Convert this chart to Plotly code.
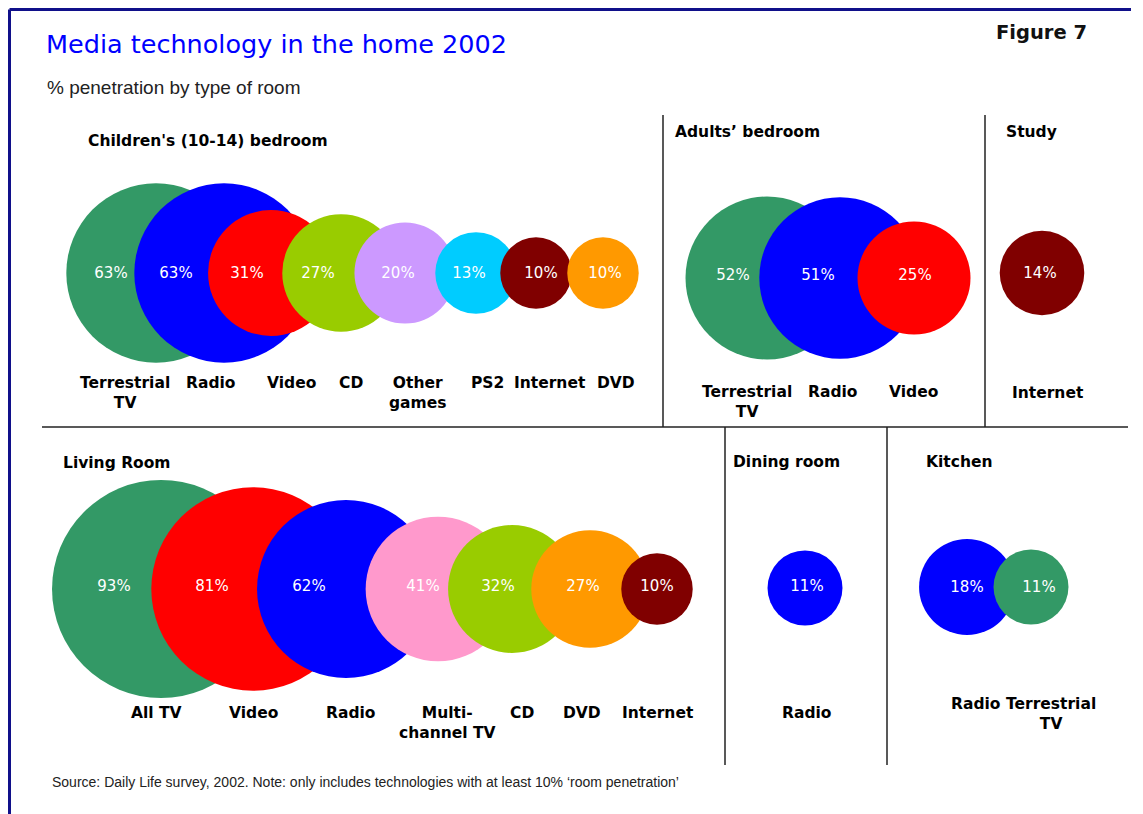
import plotly.graph_objects as go
import math

# ---------------- DATA ----------------
child_items = ["Terrestrial<br>TV", "Radio", "Video", "CD", "Other<br>games", "PS2", "Internet", "DVD"]
child_values = [63, 63, 31, 27, 20, 13, 10, 10]

adult_items = ["Terrestrial<br>TV", "Radio", "Video"]
adult_values = [52, 51, 25]

study_items = ["Internet"]
study_values = [14]

living_items = ["All TV", "Video", "Radio", "Multi-<br>channel TV", "CD", "DVD", "Internet"]
living_values = [93, 81, 62, 41, 32, 27, 10]

dining_items = ["Radio"]
dining_values = [11]

kitchen_items = ["Radio", "Terrestrial<br>TV"]
kitchen_values = [18, 11]

room_titles = ["Children's (10-14) bedroom", "Adults\u2019 bedroom", "Study",
               "Living Room", "Dining room", "Kitchen"]

# ---------------- STYLE / LAYOUT ----------------
C = {
    "Terrestrial<br>TV": "#339966", "All TV": "#339966", "Radio": "#0000FF",
    "Video": "#FF0000", "CD": "#99CC00", "Other<br>games": "#CC99FF",
    "PS2": "#00CCFF", "Internet": "#800000", "DVD": "#FF9900",
    "Multi-<br>channel TV": "#FF99CC",
}
K = 11.3  # px radius per sqrt(percentage point)

rooms = [
    dict(items=child_items, values=child_values, cy=273, ly=274, ny=372,
         cx=[156, 224, 271, 341, 405, 476, 536, 603],
         lx=[111, 176, 247, 318, 398, 469, 541, 605],
         nx=[125, 210, 291, 351, 417, 487, 550, 616]),
    dict(items=adult_items, values=adult_values, cy=278, ly=276, ny=381,
         cx=[767, 840, 914], lx=[733, 818, 915], nx=[747, 832, 913]),
    dict(items=study_items, values=study_values, cy=273, ly=274, ny=382,
         cx=[1042], lx=[1040], nx=[1048]),
    dict(items=living_items, values=living_values, cy=589, ly=587, ny=702,
         cx=[161, 253, 346, 438, 512, 590, 657],
         lx=[114, 212, 309, 423, 498, 583, 657],
         nx=[156, 253, 350, 447, 522, 582, 658]),
    dict(items=dining_items, values=dining_values, cy=588, ly=587, ny=702,
         cx=[805], lx=[807], nx=[806]),
    dict(items=kitchen_items, values=kitchen_values, cy=587, ly=588, ny=693,
         cx=[967, 1031], lx=[967, 1039], nx=[975, 1051]),
]
title_pos = [(86, 141), (673, 132), (1004, 132), (61, 463), (731, 462), (924, 462)]

FONT = "DejaVu Sans"
fig = go.Figure()
annotations = []

for room in rooms:
    vals = room["values"]
    fig.add_trace(go.Scatter(
        x=room["cx"], y=[room["cy"]] * len(vals), mode="markers",
        marker=dict(size=[2 * K * math.sqrt(v) for v in vals],
                    sizemode="diameter",
                    color=[C[i] for i in room["items"]],
                    line=dict(width=0), opacity=1),
        hoverinfo="skip", showlegend=False, cliponaxis=False))
    fig.add_trace(go.Scatter(
        x=room["lx"], y=[room["ly"]] * len(vals), mode="text",
        text=[f"{v}%" for v in vals],
        textfont=dict(family=FONT, size=15, color="white"),
        hoverinfo="skip", showlegend=False))
    for name, x in zip(room["items"], room["nx"]):
        annotations.append(dict(x=x, y=room["ny"], xref="x", yref="y", text=f"<b>{name}</b>",
                                showarrow=False, xanchor="center", yanchor="top",
                                font=dict(family=FONT, size=15.5, color="black")))

for t, (x, y) in zip(room_titles, title_pos):
    annotations.append(dict(x=x, y=y, xref="x", yref="y", text=f"<b>{t}</b>",
                            showarrow=False, xanchor="left", yanchor="middle",
                            font=dict(family=FONT, size=15.5, color="black")))

annotations += [
    dict(x=44, y=44, xref="x", yref="y", text="Media technology in the home 2002",
         showarrow=False, xanchor="left", yanchor="middle",
         font=dict(family=FONT, size=25.5, color="#0000FF")),
    dict(x=994, y=32, xref="x", yref="y", text="<b>Figure 7</b>",
         showarrow=False, xanchor="left", yanchor="middle",
         font=dict(family=FONT, size=19.5, color="#111111")),
    dict(x=45, y=87, xref="x", yref="y", text="% penetration by type of room",
         showarrow=False, xanchor="left", yanchor="middle",
         font=dict(family="Liberation Sans", size=19, color="#222222")),
    dict(x=50, y=782, xref="x", yref="y",
         text="Source: Daily Life survey, 2002. Note: only includes technologies with at least 10% \u2018room penetration\u2019",
         showarrow=False, xanchor="left", yanchor="middle",
         font=dict(family="Liberation Sans", size=14, color="#222222")),
]

shapes = [
    dict(type="line", x0=9.5, y0=9.5, x1=1131, y1=9.5, line=dict(color="#10108a", width=3)),
    dict(type="line", x0=9.5, y0=9.5, x1=9.5, y1=814, line=dict(color="#10108a", width=3)),
    dict(type="line", x0=42, y0=427, x1=1128, y1=427, line=dict(color="#222222", width=1.5)),
    dict(type="line", x0=663, y0=115, x1=663, y1=427, line=dict(color="#222222", width=1.5)),
    dict(type="line", x0=985, y0=115, x1=985, y1=427, line=dict(color="#222222", width=1.5)),
    dict(type="line", x0=725, y0=427, x1=725, y1=765, line=dict(color="#222222", width=1.5)),
    dict(type="line", x0=887, y0=427, x1=887, y1=765, line=dict(color="#222222", width=1.5)),
]
for s in shapes:
    s.update(xref="x", yref="y", layer="below")

# The page body has an 8px margin: the figure starts at page pixel (8, 8),
# so the axes are set up so that one axis unit equals one page pixel.
fig.update_layout(
    width=1135, height=806, autosize=False,
    margin=dict(l=0, r=0, t=0, b=0, pad=0),
    paper_bgcolor="white", plot_bgcolor="white",
    xaxis=dict(range=[8, 1143], visible=False, showgrid=False, zeroline=False, fixedrange=True),
    yaxis=dict(range=[814, 8], visible=False, showgrid=False, zeroline=False, fixedrange=True),
    annotations=annotations, shapes=shapes, hovermode=False, showlegend=False,
)

fig.write_html("out.html", config={"displayModeBar": False})
